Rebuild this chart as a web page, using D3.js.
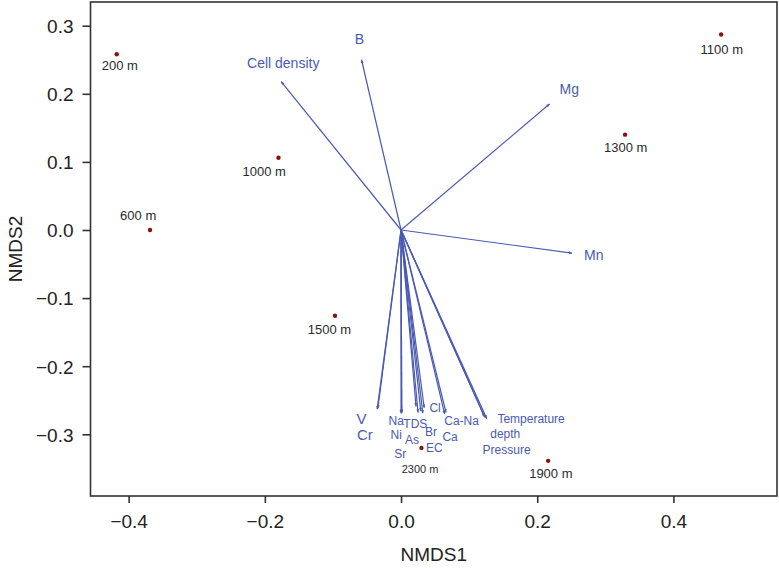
<!DOCTYPE html>
<html><head><meta charset="utf-8">
<script src="https://cdn.jsdelivr.net/npm/d3@7"></script>
<style>body{margin:0;background:#fff}svg{display:block}</style>
</head><body>
<svg id="c" width="779" height="568"></svg>
<script>
// ---- data ----
const xTicks = [-0.4, -0.2, 0.0, 0.2, 0.4];
const yTicks = [-0.3, -0.2, -0.1, 0.0, 0.1, 0.2, 0.3];
const siteNames = ["200 m","600 m","1000 m","1100 m","1300 m","1500 m","1900 m","2300 m"];
const siteX = [-0.4175, -0.3686, -0.180, 0.470, 0.329, -0.097, 0.216, 0.030];
const siteY = [0.258, 0.000, 0.106, 0.287, 0.140, -0.126, -0.339, -0.320];
const siteLabelX = [-0.413, -0.386, -0.201, 0.471, 0.330, -0.105, 0.220, 0.028];
const siteLabelY = [0.241, 0.022, 0.086, 0.265, 0.121, -0.146, -0.357, -0.351];
const vecNames = ["Cell density","B","Mg","Mn","V","Cr","Na","Ni","Sr","TDS","As","EC","Cl","Br","Ca","Ca-Na","Temperature","depth","Pressure"];
const vecX = [-0.176,-0.058,0.218,0.251,-0.034,-0.035,0.001,0.000,0.001,0.022,0.025,0.032,0.034,0.029,0.064,0.066,0.126,0.123,0.122];
const vecY = [0.218,0.250,0.185,-0.034,-0.262,-0.263,-0.268,-0.269,-0.269,-0.259,-0.268,-0.269,-0.261,-0.266,-0.270,-0.268,-0.277,-0.275,-0.273];
const vecLabelX = [-0.173,-0.061,0.247,0.283,-0.058,-0.053,-0.007,-0.007,-0.001,0.021,0.016,0.049,0.050,0.044,0.072,0.089,0.191,0.153,0.155];
const vecLabelY = [0.245,0.280,0.207,-0.037,-0.277,-0.300,-0.280,-0.301,-0.328,-0.284,-0.308,-0.320,-0.261,-0.296,-0.303,-0.280,-0.277,-0.299,-0.323];

// ---- layout ----
const L = 90.5, R = 777, T = 2, B = 496;
const x = d3.scaleLinear().domain([-0.4560, 0.5521]).range([L, R]);
const y = d3.scaleLinear().domain([-0.3906, 0.3348]).range([B, T]);
const svg = d3.select("#c");
const font = "'Liberation Sans', Arial, Helvetica, sans-serif";
const blue = "#4a5ab3";

// box
svg.append("rect").attr("x", L).attr("y", T).attr("width", R - L).attr("height", B - T)
  .attr("fill", "none").attr("stroke", "#333").attr("stroke-width", 1.6);

// axes
const xAxis = d3.axisBottom(x).tickValues(xTicks).tickFormat(d3.format(".1f")).tickSize(7).tickPadding(12);
const gx = svg.append("g").attr("transform", `translate(0,${B})`).call(xAxis);
const yAxis = d3.axisLeft(y).tickValues(yTicks).tickFormat(d3.format(".1f")).tickSize(8).tickPadding(9);
const gy = svg.append("g").attr("transform", `translate(${L},0)`).call(yAxis);
[gx, gy].forEach(g => {
  g.select(".domain").remove();
  g.selectAll(".tick line").attr("stroke", "#333").attr("stroke-width", 1.6);
  g.selectAll(".tick text").attr("fill", "#222").style("font-family", font).style("font-size", "19px")
    .text(d => d3.format(".1f")(d).replace("-", "\u2212"));
});
gy.selectAll(".tick text").attr("dy", "0.36em");

svg.append("text").attr("x", (L + R) / 2).attr("y", 561).attr("text-anchor", "middle")
  .style("font-family", font).style("font-size", "19px").attr("fill", "#222").text("NMDS1");
svg.append("text").attr("transform", `translate(22,${(T + B) / 2}) rotate(-90)`).attr("text-anchor", "middle")
  .style("font-family", font).style("font-size", "19px").attr("fill", "#222").text("NMDS2");

// arrowhead
svg.append("defs").append("marker").attr("id", "ah").attr("viewBox", "0 -5 10 10")
  .attr("refX", 9).attr("refY", 0).attr("markerWidth", 3).attr("markerHeight", 3)
  .attr("orient", "auto").attr("markerUnits", "strokeWidth")
  .append("path").attr("d", "M0,-4L10,0L0,4").attr("fill", blue);

// vectors
const vecs = vecNames.map((n, i) => ({n, x: vecX[i], y: vecY[i], lx: vecLabelX[i], ly: vecLabelY[i]}));
svg.append("g").selectAll("line").data(vecs).join("line")
  .attr("x1", x(0)).attr("y1", y(0)).attr("x2", d => x(d.x)).attr("y2", d => y(d.y))
  .attr("stroke", blue).attr("stroke-width", 1.2).attr("marker-end", "url(#ah)");

const bigVec = new Set(["Cell density","B","Mg","Mn"]);
const midVec = new Set(["V","Cr"]);
svg.append("g").selectAll("text").data(vecs).join("text")
  .attr("x", d => x(d.lx)).attr("y", d => y(d.ly)).attr("dy", "0.35em").attr("text-anchor", "middle")
  .style("font-family", font)
  .style("font-size", d => bigVec.has(d.n) ? "14px" : midVec.has(d.n) ? "15px" : "12px")
  .attr("fill", blue).text(d => d.n);

// sites
const sites = siteNames.map((n, i) => ({n, x: siteX[i], y: siteY[i], lx: siteLabelX[i], ly: siteLabelY[i]}));
svg.append("g").selectAll("circle").data(sites).join("circle")
  .attr("cx", d => x(d.x)).attr("cy", d => y(d.y)).attr("r", 2.2).attr("fill", "#8b1010");
svg.append("g").selectAll("text").data(sites).join("text")
  .attr("x", d => x(d.lx)).attr("y", d => y(d.ly)).attr("dy", "0.35em").attr("text-anchor", "middle")
  .style("font-family", font).style("font-size", d => d.n === "2300 m" ? "11px" : "13px")
  .attr("fill", "#2a2a2a").text(d => d.n);
</script>
</body></html>
